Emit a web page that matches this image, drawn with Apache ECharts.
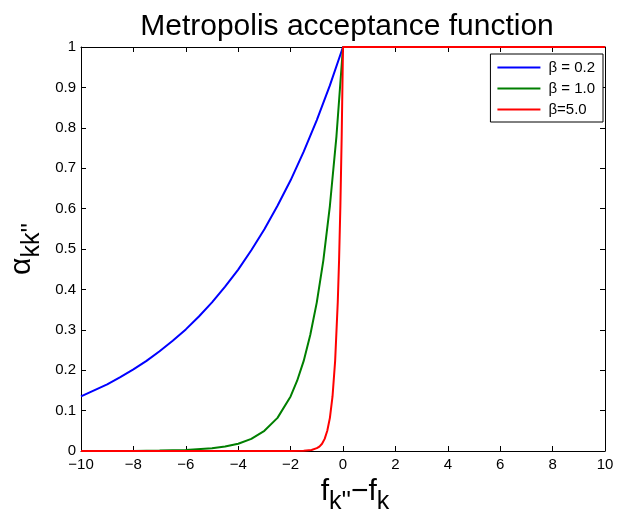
<!DOCTYPE html>
<html>
<head>
<meta charset="utf-8">
<script src="https://cdn.jsdelivr.net/npm/echarts@6/dist/echarts.min.js"></script>
<style>
  html, body { margin: 0; padding: 0; background: #fff; }
</style>
</head>
<body>
<div id="chart" style="width: 617px; height: 513px"></div>
<script>
// values, [x, alpha]
var blueData = [
  [-10, 0.135], [-9.5, 0.150], [-9, 0.165], [-8.5, 0.183], [-8, 0.202], [-7.5, 0.223],
  [-7, 0.247], [-6.5, 0.273], [-6, 0.301], [-5.5, 0.333], [-5, 0.368], [-4.5, 0.407],
  [-4, 0.449], [-3.5, 0.497], [-3, 0.549], [-2.5, 0.607], [-2, 0.670], [-1.5, 0.741],
  [-1, 0.819], [-0.5, 0.905], [0, 1], [10, 1]
];
var greenData = [
  [-10, 0], [-8, 0.0003], [-7, 0.001], [-6, 0.0025], [-5, 0.007], [-4.5, 0.011],
  [-4, 0.018], [-3.5, 0.030], [-3, 0.050], [-2.5, 0.082], [-2, 0.135], [-1.75, 0.174],
  [-1.5, 0.223], [-1.25, 0.287], [-1, 0.368], [-0.75, 0.472], [-0.5, 0.607],
  [-0.25, 0.779], [0, 1], [10, 1]
];
var redData = [
  [-10, 0], [-2, 0], [-1.5, 0.0006], [-1.2, 0.0025], [-1, 0.007], [-0.9, 0.011],
  [-0.8, 0.018], [-0.7, 0.030], [-0.6, 0.050], [-0.5, 0.082], [-0.4, 0.135],
  [-0.3, 0.223], [-0.2, 0.368], [-0.15, 0.472], [-0.1, 0.607], [-0.05, 0.779],
  [0, 1], [10, 1]
];
var seriesNames = ["\u03b2 = 0.2", "\u03b2 = 1.0", "\u03b2=5.0"];
var seriesColors = ["#0000ff", "#007f00", "#ff0000"];

var font = "Liberation Sans, Arial, Helvetica, sans-serif";
var myChart = echarts.init(document.getElementById("chart"));

function lineSeries(name, color, data) {
  return {
    name: name,
    type: "line",
    data: data,
    showSymbol: false,
    symbol: "none",
    animation: false,
    lineStyle: { color: color, width: 2 },
    itemStyle: { color: color },
  };
}

var nameRich = {
  a: { fontSize: 30, color: "#000", fontFamily: font },
  s: { fontSize: 25, color: "#000", fontFamily: font, padding: [20, 0, 0, 0] },
};

var option = {
  backgroundColor: "#fff",
  textStyle: { fontFamily: font },
  title: {
    text: "Metropolis acceptance function",
    left: 342,
    top: 7,
    textAlign: "center",
    textStyle: { fontSize: 30, fontWeight: "normal", color: "#000", fontFamily: font },
  },
  legend: {
    orient: "vertical",
    right: 14,
    top: 54,
    data: seriesNames,
    icon: "rect",
    itemWidth: 43,
    itemHeight: 2,
    itemGap: 6,
    padding: [6, 8, 5, 7],
    borderColor: "#000",
    borderWidth: 1,
    backgroundColor: "#fff",
    textStyle: { fontSize: 15, color: "#000", fontFamily: font, padding: [0, 0, 0, 3] },
  },
  grid: { left: 81, right: 12, top: 47, bottom: 62, outerBoundsMode: "none" },
  xAxis: [
    {
      type: "value",
      min: -10,
      max: 10,
      interval: 2,
      name: "{a|f}{s|k''}{a|\u2212f}{s|k}",
      nameLocation: "middle",
      nameGap: 15,
      nameTextStyle: { rich: nameRich, padding: [0, 0, 0, 24] },
      axisLine: { onZero: false, lineStyle: { color: "#000", width: 1 } },
      axisTick: { inside: true, length: 5, lineStyle: { color: "#000" } },
      axisLabel: {
        color: "#000",
        fontSize: 15,
        margin: 6,
        formatter: function (v) { return v < 0 ? "\u2212" + Math.abs(v) : String(v); },
      },
      splitLine: { show: false },
    },
    {
      type: "value",
      position: "top",
      min: -10,
      max: 10,
      interval: 2,
      axisLine: { onZero: false, lineStyle: { color: "#000", width: 1 } },
      axisTick: { inside: true, length: 5, lineStyle: { color: "#000" } },
      axisLabel: { show: false },
      splitLine: { show: false },
    },
  ],
  yAxis: [
    {
      type: "value",
      min: 0,
      max: 1,
      interval: 0.1,
      name: "{a|\u03b1}{s|kk''}",
      nameLocation: "middle",
      nameRotate: 90,
      nameGap: 31,
      nameTextStyle: { rich: nameRich },
      axisLine: { show: true, onZero: false, lineStyle: { color: "#000", width: 1 } },
      axisTick: { show: true, inside: true, length: 5, lineStyle: { color: "#000" } },
      axisLabel: {
        color: "#000",
        fontSize: 15,
        margin: 5,
        formatter: function (v) { return String(Math.round(v * 10) / 10); },
      },
      splitLine: { show: false },
    },
    {
      type: "value",
      position: "right",
      min: 0,
      max: 1,
      interval: 0.1,
      axisLine: { show: true, onZero: false, lineStyle: { color: "#000", width: 1 } },
      axisTick: { show: true, inside: true, length: 5, lineStyle: { color: "#000" } },
      axisLabel: { show: false },
      splitLine: { show: false },
    },
  ],
  series: [
    lineSeries(seriesNames[0], seriesColors[0], blueData),
    lineSeries(seriesNames[1], seriesColors[1], greenData),
    lineSeries(seriesNames[2], seriesColors[2], redData),
  ],
};

myChart.setOption(option);
window.onresize = function () {
  myChart.resize();
};
</script>
</body>
</html>
